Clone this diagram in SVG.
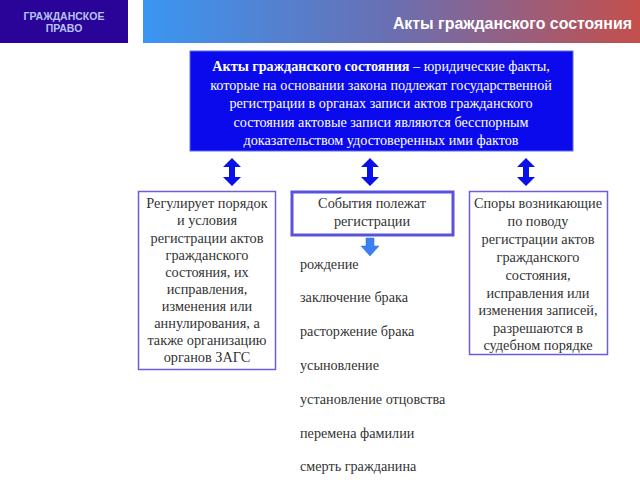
<svg xmlns="http://www.w3.org/2000/svg" width="640" height="480" viewBox="0 0 640 480">
<defs>
<linearGradient id="hdr" x1="0" y1="0" x2="1" y2="0">
<stop offset="0" stop-color="#3a96f2"/>
<stop offset="0.5" stop-color="#6a6fb2"/>
<stop offset="1" stop-color="#c44f4c"/>
</linearGradient>
<path id="dbl" d="M0,-14 L9,-5 L3,-5 L3,5 L9,5 L0,14 L-9,5 L-3,5 L-3,-5 L-9,-5 Z"/>
</defs>
<style>
.t{font-family:"Liberation Serif","Times New Roman",serif;font-size:14.3px;fill:#333;text-anchor:middle}
.w{font-family:"Liberation Serif","Times New Roman",serif;font-size:14.2px;fill:#fff;text-anchor:middle}
.l{font-family:"Liberation Serif","Times New Roman",serif;font-size:14.2px;fill:#333}
.box{fill:#fff;stroke:#6a5fd6;stroke-width:1.5}
.arr{fill:#0a10e8}
</style>
<rect width="640" height="480" fill="#fff"/>
<g id="corner">
<rect x="0" y="0" width="128" height="43" fill="#2a0398"/>
<text x="64" y="20" font-family="Liberation Sans,Arial,sans-serif" font-size="10.5" font-weight="bold" fill="#b5c2f0" text-anchor="middle">ГРАЖДАНСКОЕ</text>
<text x="64" y="32" font-family="Liberation Sans,Arial,sans-serif" font-size="10.5" font-weight="bold" fill="#b5c2f0" text-anchor="middle">ПРАВО</text>
</g>
<g id="header">
<rect x="143" y="0" width="497" height="43" fill="url(#hdr)"/>
<text x="632" y="29" font-family="Liberation Sans,Arial,sans-serif" font-size="15.9" font-weight="bold" fill="#fff" text-anchor="end">Акты гражданского состояния</text>
</g>
<g id="definition">
<rect x="190" y="51" width="383" height="100" fill="#0a0aec" stroke="#5a6cf0" stroke-width="1"/>
<text class="w" x="381" y="71"><tspan font-weight="bold">Акты гражданского состояния</tspan> – юридические факты,</text>
<text class="w" x="381" y="90">которые на основании закона подлежат государственной</text>
<text class="w" x="381" y="108">регистрации в органах записи актов гражданского</text>
<text class="w" x="381" y="127">состояния актовые записи являются бесспорным</text>
<text class="w" x="381" y="145">доказательством удостоверенных ими фактов</text>
</g>
<g id="connectors">
<use href="#dbl" class="arr" transform="translate(232,172)"/>
<use href="#dbl" class="arr" transform="translate(370,172)"/>
<use href="#dbl" class="arr" transform="translate(526,172)"/>
<path d="M366,238 L374,238 L374,246 L379,246 L370,256 L361,246 L366,246 Z" fill="#3a80f2" stroke="#2a6ee0" stroke-width="0.5"/>
</g>
<g id="regulates">
<rect class="box" x="138.5" y="191.5" width="137" height="178"/>
<text class="t" x="207" y="208">Регулирует порядок</text>
<text class="t" x="207" y="225">и условия</text>
<text class="t" x="207" y="243">регистрации актов</text>
<text class="t" x="207" y="260">гражданского</text>
<text class="t" x="207" y="277">состояния, их</text>
<text class="t" x="207" y="294">исправления,</text>
<text class="t" x="207" y="311">изменения или</text>
<text class="t" x="207" y="328">аннулирования, а</text>
<text class="t" x="207" y="345">также организацию</text>
<text class="t" x="207" y="362">органов ЗАГС</text>
</g>
<g id="events">
<rect x="292" y="192" width="161" height="43" fill="#fff" stroke="#5a52dc" stroke-width="3"/>
<text class="t" x="372" y="208">События полежат</text>
<text class="t" x="372" y="226">регистрации</text>
</g>
<g id="list">
<text class="l" x="300" y="269">рождение</text>
<text class="l" x="300" y="302">заключение брака</text>
<text class="l" x="300" y="336">расторжение брака</text>
<text class="l" x="300" y="370">усыновление</text>
<text class="l" x="300" y="404">установление отцовства</text>
<text class="l" x="300" y="438">перемена фамилии</text>
<text class="l" x="300" y="471">смерть гражданина</text>
</g>
<g id="disputes">
<rect class="box" x="469.5" y="191.5" width="138" height="163"/>
<text class="t" x="538" y="208">Споры возникающие</text>
<text class="t" x="538" y="226">по поводу</text>
<text class="t" x="538" y="244">регистрации актов</text>
<text class="t" x="538" y="262">гражданского</text>
<text class="t" x="538" y="280">состояния,</text>
<text class="t" x="538" y="298">исправления или</text>
<text class="t" x="538" y="315">изменения записей,</text>
<text class="t" x="538" y="333">разрешаются в</text>
<text class="t" x="538" y="350">судебном порядке</text>
</g>
</svg>
